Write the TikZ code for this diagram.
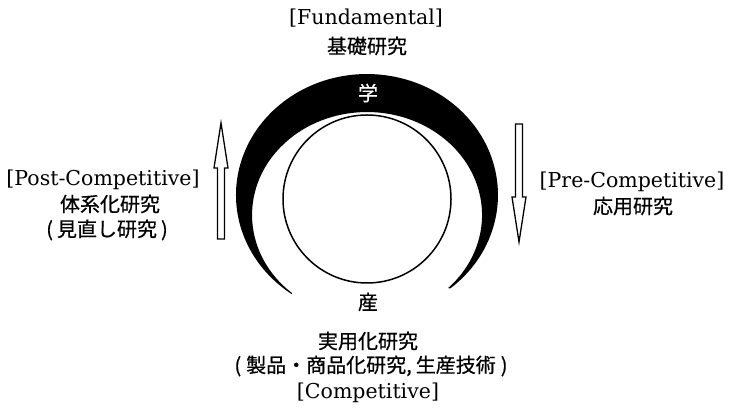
\documentclass[tikz,border=0pt]{standalone}
\usepackage{fontspec}
\setmainfont{DejaVu Serif}
\newfontfamily\cjk[FakeBold=0.6]{Noto Sans CJK JP}
\begin{document}
\begin{tikzpicture}[x=1pt,y=1pt,
  lat/.style={font=\fontsize{20.5}{24}\selectfont, inner sep=0pt},
  jp/.style={font=\cjk\fontsize{20}{24}\selectfont, inner sep=0pt},
  blockarrow/.style={draw=black, line width=1.3pt, fill=white, line join=miter}]
\useasboundingbox (0,0) rectangle (730,411);
% crescent
\fill[black] (450.3,122.6) arc[start angle=-50.5, end angle=235, x radius=131pt, y radius=121pt]
  -- (291.9,118) arc[start angle=229.2, end angle=-45.2, x radius=115pt, y radius=103pt] -- cycle;
% inner circle
\draw[line width=1.5pt] (367,212) circle[radius=84pt];
% arrows
\draw[blockarrow] (217.5,172) -- (224.5,172) -- (224.5,243) -- (228,243) -- (221,288) -- (214,243) -- (217.5,243) -- cycle;
\draw[blockarrow] (515.5,287) -- (522.5,287) -- (522.5,214) -- (526,214) -- (519,169) -- (512,214) -- (515.5,214) -- cycle;
% texts
\node[lat] (fund) at (366,393) {[Fundamental]};
\node[jp] (kiso) at (367,365) {基礎研究};
\node[jp, text=white] (gaku) at (368,318) {学};
\node[jp] (san) at (368,109) {産};
\node[lat] (post) at (103,231) {[Post-Competitive]};
\node[jp] (taikei) at (110,207) {体系化研究};
\node[jp] (minaoshi) at (107,181) {(\hspace{4pt}見直し研究\hspace{4pt})};
\node[lat] (pre) at (632,229) {[Pre-Competitive]};
\node[jp] (ouyou) at (633,205) {応用研究};
\node[jp] (jitsu) at (368,70) {実用化研究};
\node[jp] (seihin) at (371,45) {(\hspace{5pt}製品・商品化研究,\hspace{4pt}生産技術\hspace{5pt})};
\node[lat] (comp) at (368,18) {[Competitive]};
\end{tikzpicture}
\end{document}
